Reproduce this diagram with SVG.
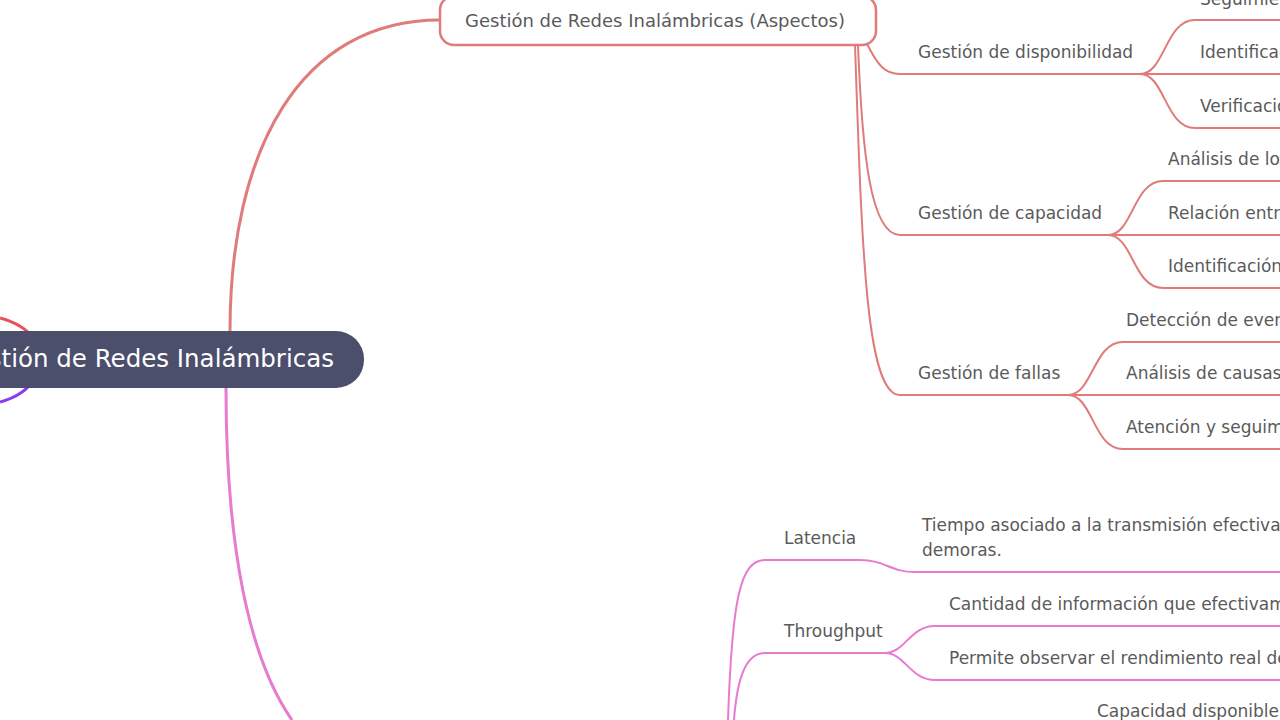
<svg xmlns="http://www.w3.org/2000/svg" width="1280" height="720" viewBox="0 0 1280 720">
<style>
.t{font-family:"DejaVu Sans",sans-serif;font-size:17px;fill:#5a5a5a}
.r{fill:none;stroke:#e07b7b;stroke-width:2}
.p{fill:none;stroke:#e87bd0;stroke-width:2}
</style>
<rect width="1280" height="720" fill="#fff"/>
<g id="connectors">
<path d="M0,318 C15,322 28,330 35,340" fill="none" stroke="#e8505a" stroke-width="3"/>
<path d="M35,378 C28,390 15,398 0,402" fill="none" stroke="#8a3cf0" stroke-width="3"/>
<path d="M230,331 C230,150 300,20 440,20" fill="none" stroke="#e07b7b" stroke-width="3"/>
<path d="M226,388 C226,550 250,660 292,720" fill="none" stroke="#e87bd0" stroke-width="3"/>
<path class="r" d="M866,42 C878,66 885,74 900,74 L1140,74"/>
<path class="r" d="M858,45 C862,150 870,235 900,235 L1108,235"/>
<path class="r" d="M855,45 C862,250 866,395 900,395 L1068,395"/>
<path class="r" d="M1140,74 C1165,74 1165,20 1195,20 L1280,20"/>
<path class="r" d="M1140,74 L1280,74"/>
<path class="r" d="M1140,74 C1165,74 1165,128 1195,128 L1280,128"/>
<path class="r" d="M1108,235 C1133,235 1133,181 1163,181 L1280,181"/>
<path class="r" d="M1108,235 L1280,235"/>
<path class="r" d="M1108,235 C1133,235 1133,288 1163,288 L1280,288"/>
<path class="r" d="M1068,395 C1093,395 1093,342 1123,342 L1280,342"/>
<path class="r" d="M1068,395 L1280,395"/>
<path class="r" d="M1068,395 C1093,395 1093,449 1123,449 L1280,449"/>
<path class="p" d="M728,720 C732,600 740,560 765,560 L860,560 C885,560 890,572 915,572 L1280,572"/>
<path class="p" d="M734,720 C737,680 745,653 765,653 L885,653"/>
<path class="p" d="M885,653 C905,653 910,626 935,626 L1280,626"/>
<path class="p" d="M885,653 C905,653 910,680 935,680 L1280,680"/>
</g>
<g id="central">
<rect x="-40" y="331" width="404" height="57" rx="28" fill="#4b4f6b"/>
<text x="334" y="367" text-anchor="end" font-family="DejaVu Sans,sans-serif" font-size="24.5" fill="#fff">Gestión de Redes Inalámbricas</text>
</g>
<g id="aspectos">
<rect x="440" y="-4" width="436" height="49" rx="14" fill="#fff" stroke="#e07b7b" stroke-width="2.5"/>
<text class="t" x="465" y="27" style="font-size:18px">Gestión de Redes Inalámbricas (Aspectos)</text>
</g>
<g id="disp"><text class="t" x="918" y="58">Gestión de disponibilidad</text></g>
<g id="cap"><text class="t" x="918" y="219">Gestión de capacidad</text></g>
<g id="fallas"><text class="t" x="918" y="379">Gestión de fallas</text></g>
<g id="d1"><text class="t" x="1200" y="5">Seguimie</text></g>
<g id="d2"><text class="t" x="1200" y="58">Identificac</text></g>
<g id="d3"><text class="t" x="1200" y="112">Verificació</text></g>
<g id="c1"><text class="t" x="1168" y="165">Análisis de lo</text></g>
<g id="c2"><text class="t" x="1168" y="219">Relación entr</text></g>
<g id="c3"><text class="t" x="1168" y="272">Identificación</text></g>
<g id="f1"><text class="t" x="1126" y="326">Detección de ever</text></g>
<g id="f2"><text class="t" x="1126" y="379">Análisis de causas</text></g>
<g id="f3"><text class="t" x="1126" y="433">Atención y seguim</text></g>
<g id="lat"><text class="t" x="784" y="544">Latencia</text></g>
<g id="thr"><text class="t" x="784" y="637">Throughput</text></g>
<g id="l1"><text class="t" x="922" y="531">Tiempo asociado a la transmisión efectiva</text><text class="t" x="922" y="556">demoras.</text></g>
<g id="t1"><text class="t" x="949" y="610">Cantidad de información que efectivam</text></g>
<g id="t2"><text class="t" x="949" y="664">Permite observar el rendimiento real de</text></g>
<g id="cd"><text class="t" x="1097" y="717">Capacidad disponible</text></g>
</svg>
